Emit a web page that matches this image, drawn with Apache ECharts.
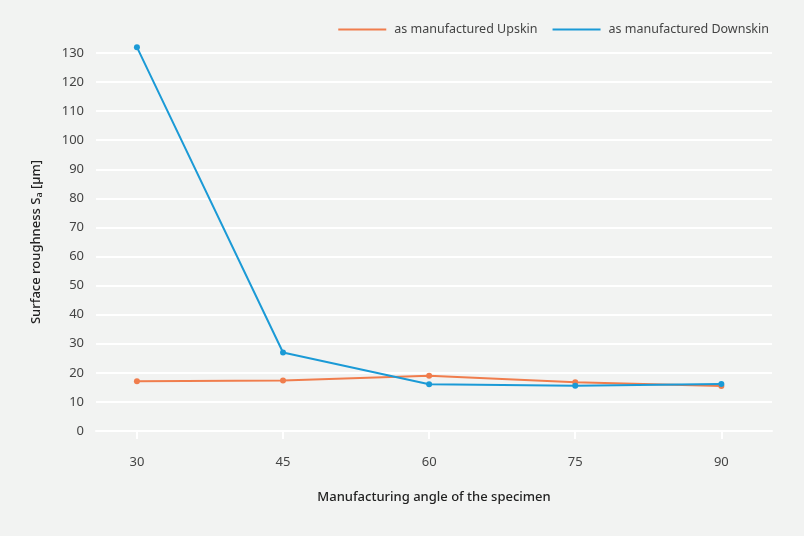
<!DOCTYPE html>
<html><head><meta charset="utf-8">
<script src="https://cdn.jsdelivr.net/npm/echarts@6/dist/echarts.min.js"></script>
<style>html,body{margin:0;padding:0;background:#f2f3f2;}#c{width:804px;height:536px;}</style>
</head><body><div id="c"></div>
<script>
const angles = [30, 45, 60, 75, 90];
const upskin = [17.1, 17.4, 19.0, 16.8, 15.5];
const downskin = [132, 27, 16.1, 15.6, 16.2];
const xTicks = [30, 45, 60, 75, 90];
const seriesNames = ['as manufactured Upskin', 'as manufactured Downskin'];
const FONT = '"Noto Sans", sans-serif';
const chart = echarts.init(document.getElementById('c'));
const pairs = (ys) => angles.map((a, i) => [a, ys[i]]);
chart.setOption({
  backgroundColor: '#f2f3f2',
  textStyle: { fontFamily: FONT },
  grid: { left: 96, right: 32, top: 53, bottom: 105 },
  legend: {
    right: 30, top: 18,
    itemWidth: 48, itemHeight: 2, itemGap: 15,
    icon: 'rect',
    textStyle: { fontFamily: FONT, fontSize: 12.5, color: '#444', padding: [0, 0, 0, 3] },
    data: seriesNames
  },
  xAxis: {
    type: 'value', min: 25.8, max: 95.2,
    splitLine: { show: false },
    axisLine: { show: true, lineStyle: { color: '#ffffff', width: 2 } },
    axisTick: { show: true, length: 8, customValues: xTicks, lineStyle: { color: '#ffffff', width: 2 } },
    axisLabel: { customValues: xTicks, margin: 25, fontSize: 13, color: '#444', fontFamily: FONT },
    name: 'Manufacturing angle of the specimen',
    nameLocation: 'middle', nameGap: 60,
    nameTextStyle: { fontSize: 13, color: '#222', fontWeight: 500, fontFamily: FONT }
  },
  yAxis: {
    type: 'value', min: 0, max: 130, interval: 10,
    axisLine: { show: false }, axisTick: { show: false },
    splitLine: { lineStyle: { color: '#ffffff', width: 2 } },
    axisLabel: { margin: 12, fontSize: 13, color: '#444', fontFamily: FONT },
    name: '{n|Surface roughness S}{s|a}{n| [µm]}',
    nameLocation: 'middle', nameGap: 52, nameRotate: 90,
    nameTextStyle: {
      rich: {
        n: { fontSize: 13, color: '#222', fontWeight: 500, fontFamily: FONT },
        s: { fontSize: 9, color: '#222', fontWeight: 500, fontFamily: FONT, verticalAlign: 'bottom', padding: [6, 0, 0, 0] }
      }
    }
  },
  series: [
    { name: seriesNames[0], type: 'line', data: pairs(upskin), clip: false,
      color: '#f07d4d', lineStyle: { width: 2 }, symbol: 'circle', symbolSize: 6 },
    { name: seriesNames[1], type: 'line', data: pairs(downskin), clip: false,
      color: '#1b9ad6', lineStyle: { width: 2 }, symbol: 'circle', symbolSize: 6 }
  ],
  animation: false
});
</script></body></html>
